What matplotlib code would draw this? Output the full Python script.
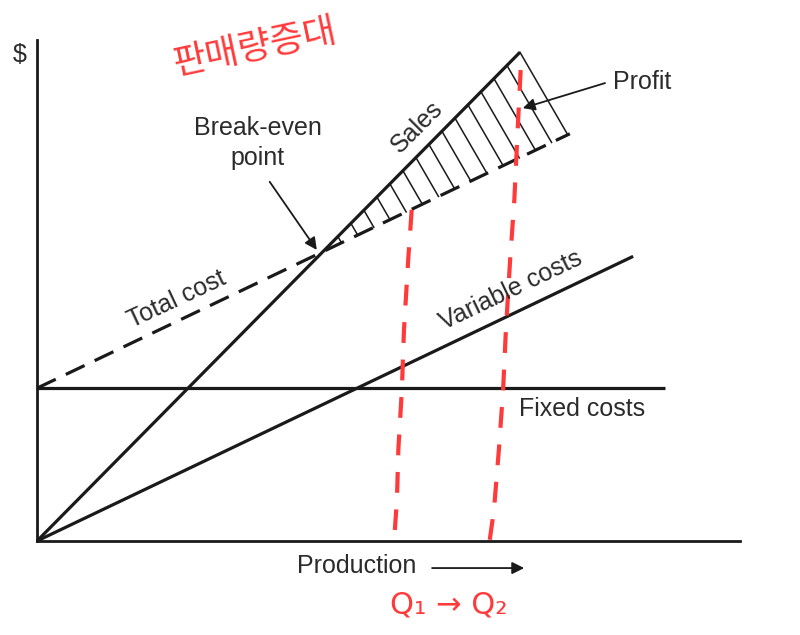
import numpy as np
import matplotlib.pyplot as plt

# ------------------------------------------------------------
# datos del gráfico (unidades: producción 0-100, $ 0-100)
# ------------------------------------------------------------
costo_fijo = 30.5
pend_ventas = 1.42
pend_variable = 0.67

x_ventas_fin = 68.7
x_fijo_fin = 89.3
x_variable_fin = 84.8
x_total_fin = 75.8

# posiciones de las líneas rayadas (ganancia), a lo largo de la recta de ventas
x_rayado = [68.7, 66.85, 65.0, 63.15, 61.3, 59.45, 57.6, 55.75,
            53.9, 52.05, 50.2, 48.35, 46.5, 44.65, 42.8]
dir_rayado = (7.1, -17.2)

# trazos rojos a mano (Q1 y Q2)
q1_x = [53.3, 52.8, 52.2, 51.9, 51.4, 51.2, 50.9]
q1_y = [66.1, 56.1, 42.1, 30.1, 18.2, 8.2, 2.2]
q2_x = [68.8, 68.3, 67.9, 67.3, 66.7, 66.3, 65.7, 65.0, 64.4]
q2_y = [94.0, 80.0, 68.1, 56.1, 42.1, 30.1, 18.2, 6.2, 0.2]

negro = '#1a1a1a'
texto = '#2b2b2b'
rojo = '#ff3a3a'
fs = 18

plt.rcParams['font.family'] = ['Liberation Sans', 'DejaVu Sans']

fig = plt.figure(figsize=(8, 6.35), dpi=100)
ax = fig.add_axes([37 / 800, 94 / 635, 703 / 800, 501 / 635])
ax.set_xlim(0, 100)
ax.set_ylim(0, 100)
ax.set_xticks([])
ax.set_yticks([])
for lado in ['top', 'right']:
    ax.spines[lado].set_visible(False)
for lado in ['left', 'bottom']:
    ax.spines[lado].set_linewidth(2.0)
    ax.spines[lado].set_color(negro)

lw = 2.3

# ventas
ax.plot([0, x_ventas_fin], [0, pend_ventas * x_ventas_fin],
        color=negro, lw=lw, clip_on=False, solid_capstyle='butt')
# costos fijos
ax.plot([0, x_fijo_fin], [costo_fijo, costo_fijo],
        color=negro, lw=lw, clip_on=False, solid_capstyle='butt')
# costos variables
ax.plot([0, x_variable_fin], [0, pend_variable * x_variable_fin],
        color=negro, lw=lw, clip_on=False, solid_capstyle='butt')
# costo total (discontinua)
ax.plot([0, x_total_fin],
        [costo_fijo, costo_fijo + pend_variable * x_total_fin],
        color=negro, lw=lw, linestyle=(0, (6.5, 3.5)), clip_on=False)

# rayado de la ganancia
dx, dy = dir_rayado
for x0 in x_rayado:
    y0 = pend_ventas * x0
    t = ((pend_ventas - pend_variable) * x0 - costo_fijo) / (-dy + pend_variable * dx)
    ax.plot([x0, x0 + dx * t], [y0, y0 + dy * t], color=negro, lw=1.1)

# textos
ax.text(-2.4, 97.0, '$', fontsize=fs, color=texto, ha='center', va='center')
ax.text(31.4, 79.4, 'Break-even\npoint', fontsize=fs, color=texto,
        ha='center', va='center', linespacing=1.3)
ax.text(54.0, 82.6, 'Sales', fontsize=fs, color=texto, ha='center',
        va='center', rotation=45)
ax.text(86.1, 91.6, 'Profit', fontsize=fs, color=texto, ha='center', va='center')
ax.text(19.9, 48.3, 'Total cost', fontsize=fs, color=texto, ha='center',
        va='center', rotation=25)
ax.text(67.4, 50.1, 'Variable costs', fontsize=fs, color=texto, ha='center',
        va='center', rotation=25.5)
ax.text(77.5, 26.3, 'Fixed costs', fontsize=fs, color=texto, ha='center',
        va='center')
ax.text(45.5, -5.0, 'Production', fontsize=fs, color=texto, ha='center',
        va='center')

# flechas
flecha = dict(arrowstyle='-|>', color=negro, lw=1.3, mutation_scale=18,
              shrinkA=0, shrinkB=0)
ax.annotate('', xy=(39.8, 58.1), xytext=(33.1, 71.7), arrowprops=flecha)
ax.annotate('', xy=(69.1, 86.4), xytext=(80.8, 91.4), arrowprops=flecha)
ax.annotate('', xy=(69.3, -5.4), xytext=(56.2, -5.4), arrowprops=flecha,
            annotation_clip=False)

# anotaciones rojas
ax.plot(q1_x, q1_y, color=rojo, lw=3, linestyle=(0, (5, 4)), clip_on=False)
ax.plot(q2_x, q2_y, color=rojo, lw=3, linestyle=(0, (5, 4)), clip_on=False)
ax.text(31.0, 98.5, '판매량증대', fontsize=26, color=rojo, ha='center',
        va='center', rotation=12,
        family=['Noto Sans CJK KR', 'DejaVu Sans'])
ax.text(58.5, -12.8, 'Q₁ → Q₂', fontsize=22, color=rojo, ha='center',
        va='center', family=['DejaVu Sans'])

fig.savefig('out.png', dpi=100)
